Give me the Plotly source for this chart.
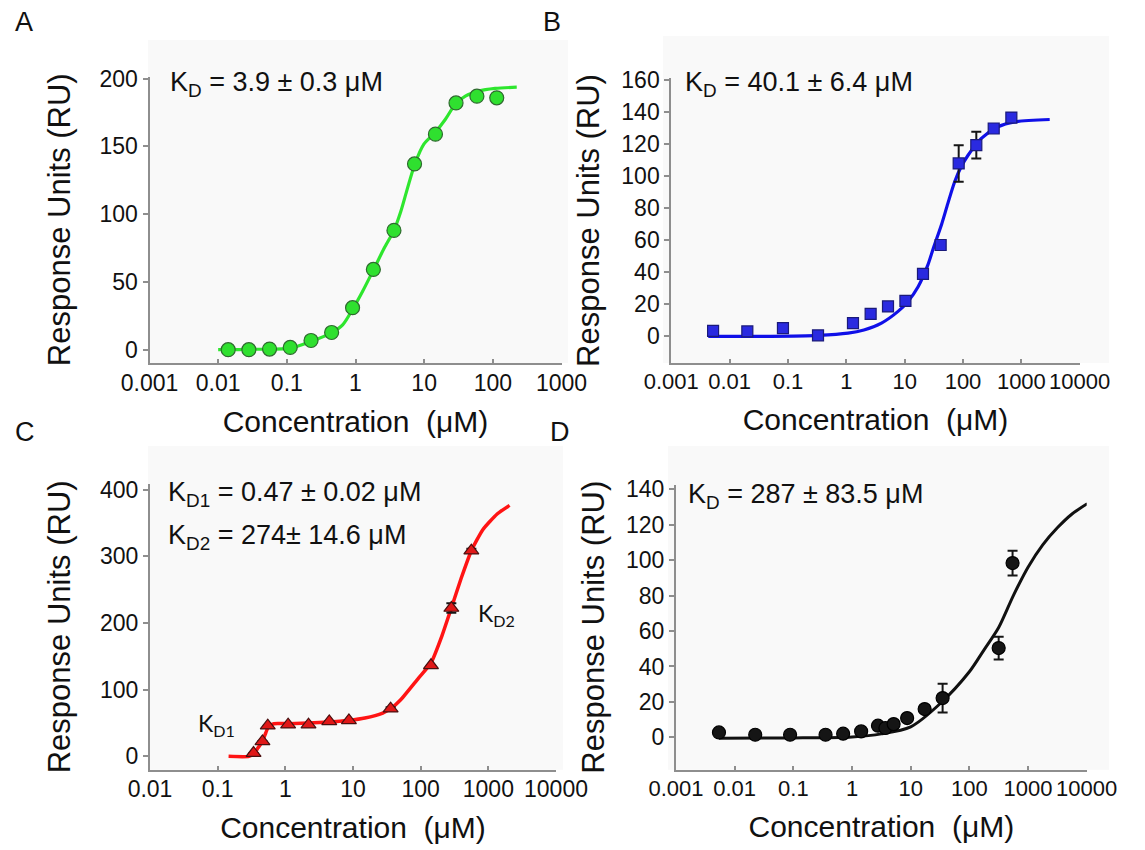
import plotly.graph_objects as go

W, H = 1145, 850

# ---------------- data ----------------
# Panel A
a_conc = [0.014, 0.028, 0.056, 0.112, 0.225, 0.449, 0.906, 1.82, 3.63, 7.24, 14.6, 29.1, 58.6, 114]
a_ru = [0, 0, 0.5, 1.7, 6.8, 12.7, 31, 59.2, 88, 137, 159, 182, 187, 185.8]
a_err = [None] * 11 + [3, None, None]
a_fit_conc = [0.01, 0.03, 0.11, 0.225, 0.44, 0.65, 0.925, 1.26, 1.82, 2.6, 3.63, 4.54, 5.68, 7.33,
              9.9, 14.3, 20.4, 28.4, 39.8, 62, 108, 223]
a_fit_ru = [0, 0.3, 1.2, 6.1, 12.2, 18.3, 30.6, 42.8, 58.7, 74.6, 88, 101.5, 118.6, 137,
            151.6, 160, 170, 181, 187, 190.7, 192.7, 193.6]

# Panel B
b_conc = [0.0052, 0.0201, 0.082, 0.327, 1.30, 2.61, 5.18, 10.3, 20.6, 41.4, 84.3, 169, 336, 674]
b_ru = [3.5, 3.1, 5.2, 0.6, 8.3, 14.1, 18.7, 22.2, 39, 57, 107.9, 119.3, 129.7, 136.5]
b_err = [None] * 10 + [11.4, 8.3, None, None]
b_fit_conc = [0.0043, 0.05, 0.33, 1.07, 2.0, 4.0, 7.7, 11.4, 17, 25, 31, 43, 55, 72,
              93, 122, 204, 398, 769, 3060]
b_fit_ru = [0, 0, 0.6, 2, 4, 8.3, 15.6, 21.8, 31, 44.6, 55, 70, 83, 96.5,
            105.8, 113, 123.4, 130.7, 133.8, 135.3]

# Panel C
c_conc = [0.339, 0.459, 0.55, 1.1, 2.2, 4.46, 8.7, 36, 142, 284, 561]
c_ru = [5, 22.5, 46, 47.5, 47.5, 52.5, 54, 71.5, 136.5, 222.5, 308.5]
c_err = [None] * 7 + [2, None, 7, 3]
c_fit_conc = [0.145, 0.29, 0.348, 0.393, 0.459, 0.513, 0.565, 0.678, 1.1, 4.46, 8.7, 15,
              27.5, 36, 50.7, 93, 142, 205, 284, 398, 561, 828, 1350, 2060]
c_fit_ru = [0, 0, 5, 12.5, 22.5, 35, 45, 49, 49, 51.5, 54, 57.5,
            65, 71.5, 85, 117.5, 140, 180, 222.5, 267.5, 308.5, 340, 363.5, 376.5]

# Panel D
d_conc = [0.0054, 0.0224, 0.088, 0.354, 0.706, 1.43, 2.77, 3.71, 5.12, 8.7, 17.3, 35, 316, 545]
d_ru = [2.8, 1.5, 1.5, 1.5, 2.1, 3.4, 6.6, 5.3, 7.5, 10.9, 16, 22.2, 50.4, 98.3]
d_err = [None] * 11 + [8.1, 6.4, 7]
d_fit_conc = [0.0054, 0.1, 1, 3.16, 10, 31.6, 100, 178, 316, 562, 1000, 1780, 3160, 5620, 10200]
d_fit_ru = [-0.4, -0.3, 0.3, 2, 6, 19, 37, 49.4, 62, 80, 96, 108.6, 118.2, 126, 131.8]

# tick labels
a_xticks = [0.001, 0.01, 0.1, 1, 10, 100, 1000]
a_xlabels = ["0.001", "0.01", "0.1", "1", "10", "100", "1000"]
bd_xticks = [0.001, 0.01, 0.1, 1, 10, 100, 1000, 10000]
bd_xlabels = ["0.001", "0.01", "0.1", "1", "10", "100", "1000", "10000"]
c_xticks = [0.01, 0.1, 1, 10, 100, 1000, 10000]
c_xlabels = ["0.01", "0.1", "1", "10", "100", "1000", "10000"]
a_yticks = [0, 50, 100, 150, 200]
b_yticks = [0, 20, 40, 60, 80, 100, 120, 140, 160]
c_yticks = [0, 100, 200, 300, 400]
d_yticks = [0, 20, 40, 60, 80, 100, 120, 140]

x_title = "Concentration  (μM)"
y_title = "Response Units (RU)"
kd_texts = ["K<sub>D</sub> = 3.9 ± 0.3 μM",
            "K<sub>D</sub> = 40.1 ± 6.4 μM",
            "K<sub>D1</sub> = 0.47 ± 0.02 μM",
            "K<sub>D2</sub> = 274± 14.6 μM",
            "K<sub>D</sub> = 287 ± 83.5 μM"]
panel_letters = ["A", "B", "C", "D"]

# ---------------- styling ----------------
FONT = "Liberation Sans, Arial, sans-serif"
AXC = "#8e8e8e"
TXT = "#111111"


def px_x(p):
    return p / W


def px_y(p):
    return 1 - p / H


fig = go.Figure()

panels = [
    # conc, ru, err, fit_conc, fit_ru, line colour, symbol, marker colour, outline, size, lw, smoothing
    (a_conc, a_ru, a_err, a_fit_conc, a_fit_ru, "#2ee62e", "circle", "#2fe02f", "#2f6a2f", 14, 3.2, 0.8),
    (b_conc, b_ru, b_err, b_fit_conc, b_fit_ru, "#1010e8", "square", "#2a2ae0", "#1a1a7a", 11, 3.2, 0.8),
    (c_conc, c_ru, c_err, c_fit_conc, c_fit_ru, "#ff1414", "triangle-up", "#e01818", "#4a1010", 13, 3.5, 0.5),
    (d_conc, d_ru, d_err, d_fit_conc, d_fit_ru, "#111111", "circle", "#151515", "#000000", 13, 3.0, 0.8),
]

for i, (xc, yr, er, fx, fy, lc, sym, mc, oc, ms, lw, sm) in enumerate(panels):
    sfx = "" if i == 0 else str(i + 1)
    fig.add_trace(go.Scatter(
        x=fx, y=fy, mode="lines", line=dict(color=lc, width=lw, shape="spline", smoothing=sm),
        xaxis="x" + sfx, yaxis="y" + sfx, showlegend=False, hoverinfo="skip"))
    fig.add_trace(go.Scatter(
        x=xc, y=yr, mode="markers",
        marker=dict(symbol=sym, size=ms, color=mc, line=dict(color=oc, width=1.2)),
        error_y=dict(type="data", array=er, color="#151515", thickness=2, width=5),
        xaxis="x" + sfx, yaxis="y" + sfx, showlegend=False))

# domains in pixels: (x0, x1, ytop, ybottom)
doms = [(141.5, 553.5, 68.5, 355), (663.3, 1071.7, 70, 355),
        (142, 548, 476, 761.7), (668, 1078.7, 476.7, 761.7)]
xranges = [[-3, 3], [-3, 4], [-2, 4], [-3, 4]]
yranges = [[-9.8, 201.5], [-16.6, 161.2], [-20, 408.5], [-18.2, 142.5]]
xtv = [(a_xticks, a_xlabels), (bd_xticks, bd_xlabels), (c_xticks, c_xlabels), (bd_xticks, bd_xlabels)]
xtick_size = [23, 22, 23, 22]
ytv = [a_yticks, b_yticks, c_yticks, d_yticks]
ystand = [20, 12, 20, 12]

layout = dict(
    width=W, height=H, margin=dict(l=0, r=0, t=0, b=0),
    paper_bgcolor="white", plot_bgcolor="rgba(0,0,0,0)",
    font=dict(family=FONT, color=TXT, size=23),
    showlegend=False,
)

for i in range(4):
    sfx = "" if i == 0 else str(i + 1)
    x0, x1, yt, yb = doms[i]
    layout["xaxis" + sfx] = dict(
        domain=[px_x(x0), px_x(x1)], anchor="y" + sfx, type="log", range=xranges[i],
        tickmode="array", tickvals=xtv[i][0], ticktext=xtv[i][1], tickangle=0,
        ticks="inside", ticklen=4, tickwidth=1.5, tickcolor=AXC,
        showline=True, linecolor=AXC, linewidth=2, showgrid=False, zeroline=False,
        tickfont=dict(size=xtick_size[i], family=FONT, color=TXT), ticklabelstandoff=-2,
        title=dict(text=x_title, font=dict(size=30, family=FONT, color=TXT), standoff=16),
        automargin=False, fixedrange=True)
    layout["yaxis" + sfx] = dict(
        domain=[px_y(yb), px_y(yt)], anchor="x" + sfx, range=yranges[i],
        tickmode="array", tickvals=ytv[i],
        ticks="outside", ticklen=5, tickwidth=1.5, tickcolor=AXC,
        showline=True, linecolor=AXC, linewidth=2, showgrid=False, zeroline=False,
        tickfont=dict(size=23, family=FONT, color=TXT),
        title=dict(text=y_title, font=dict(size=31, family=FONT, color=TXT), standoff=ystand[i]),
        automargin=False, fixedrange=True)

# faint grey panel backgrounds
bgs = [(140, 32, 560, 355), (655, 28, 1101, 355), (140, 438, 555, 761.7), (660, 438, 1101, 761.7)]
shapes = []
for (bx0, by0, bx1, by1) in bgs:
    shapes.append(dict(type="rect", xref="paper", yref="paper", x0=px_x(bx0), x1=px_x(bx1),
                       y0=px_y(by1), y1=px_y(by0), fillcolor="#f9f9f9", line=dict(width=0), layer="below"))
layout["shapes"] = shapes

ann = []
kd_pos = [(160, 76), (675, 76), (158, 486), (158, 529), (678, 488)]
for t, (ax, ay) in zip(kd_texts, kd_pos):
    ann.append(dict(text=t, xref="paper", yref="paper", x=px_x(ax), y=px_y(ay), xanchor="left",
                    yanchor="middle", showarrow=False, font=dict(size=27, family=FONT, color=TXT)))
# curve labels in panel C
ann.append(dict(text="K<sub>D1</sub>", xref="paper", yref="paper", x=px_x(188), y=px_y(716),
                xanchor="left", yanchor="middle", showarrow=False,
                font=dict(size=23, family="Lato, Open Sans, sans-serif", color=TXT)))
ann.append(dict(text="K<sub>D2</sub>", xref="paper", yref="paper", x=px_x(468), y=px_y(606),
                xanchor="left", yanchor="middle", showarrow=False,
                font=dict(size=23, family="Lato, Open Sans, sans-serif", color=TXT)))
# panel letters
for t, (lx, ly) in zip(panel_letters, [(16, 14), (544, 14), (17, 424), (552, 424)]):
    ann.append(dict(text=t, xref="paper", yref="paper", x=px_x(lx), y=px_y(ly), xanchor="center",
                    yanchor="middle", showarrow=False, font=dict(size=27, family=FONT, color=TXT)))
layout["annotations"] = ann

fig.update_layout(**layout)
fig.write_html("out.html")
